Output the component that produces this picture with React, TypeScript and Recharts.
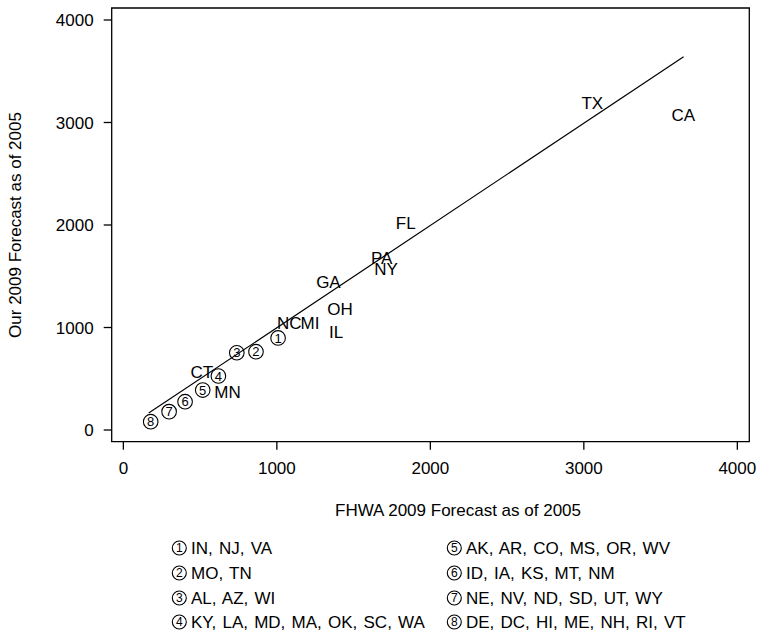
import React from 'react';
import { ScatterChart, Scatter, XAxis, YAxis, ReferenceArea } from 'recharts';

const xTicks = [0, 1000, 2000, 3000, 4000];
const yTicks = [0, 1000, 2000, 3000, 4000];

const stateLabels = ['TX', 'CA', 'FL', 'PA', 'NY', 'GA', 'OH', 'IL', 'NC', 'MI', 'CT', 'MN'];
const stateX = [3055, 3648, 1840, 1683, 1711, 1336, 1412, 1386, 1081, 1216, 511, 679];
const stateY = [3187, 3073, 2017, 1675, 1568, 1447, 1180, 953, 1047, 1047, 569, 374];

const groupNumbers = ['1', '2', '3', '4', '5', '6', '7', '8'];
const groupX = [1008, 864, 739, 619, 517, 402, 298, 178];
const groupY = [898, 764, 754, 527, 390, 276, 179, 81];

const groupStates = [
  'IN, NJ, VA',
  'MO, TN',
  'AL, AZ, WI',
  'KY, LA, MD, MA, OK, SC, WA',
  'AK, AR, CO, MS, OR, WV',
  'ID, IA, KS, MT, NM',
  'NE, NV, ND, SD, UT, WY',
  'DE, DC, HI, ME, NH, RI, VT',
];

const fitX = [165, 3650];
const fitY = [165, 3642];

const xTitle = 'FHWA 2009 Forecast as of 2005';
const yTitle = 'Our 2009 Forecast as of 2005';

const stateData = stateLabels.map((label, i) => ({ x: stateX[i], y: stateY[i], label }));
const groupData = groupNumbers.map((label, i) => ({ x: groupX[i], y: groupY[i], label }));
const fitData = fitX.map((x, i) => ({ x, y: fitY[i] }));

const FONT = '"Liberation Sans", Arial, Helvetica, sans-serif';

const LabelShape = (props: any) => {
  const { cx, cy, payload } = props;
  return (
    <text x={cx} y={cy} dy="0.35em" textAnchor="middle" fontSize={17} fontFamily={FONT} fill="#000">
      {payload.label}
    </text>
  );
};

const CircledDigit = ({ cx, cy, r, digit, size }: { cx: number; cy: number; r: number; digit: string; size: number }) => (
  <g>
    <circle cx={cx} cy={cy} r={r} fill="none" stroke="#000" strokeWidth={1.1} />
    <text x={cx} y={cy} dy="0.36em" textAnchor="middle" fontSize={size} fontFamily={FONT} fill="#000">
      {digit}
    </text>
  </g>
);

const CircleShape = (props: any) => {
  const { cx, cy, payload } = props;
  return <CircledDigit cx={cx} cy={cy} r={7.3} digit={payload.label} size={13} />;
};

const NoShape = () => <g />;

export default function App() {
  const legendCol = [172, 447];
  const legendRow = [548, 573, 598, 622];
  return (
    <div style={{ position: 'absolute', left: 0, top: 0, width: 759, height: 635, background: '#fff' }}>
      <ScatterChart
        width={759}
        height={635}
        margin={{ top: 8, right: 9.7, bottom: 163.3, left: 51.7 }}
      >
        <XAxis
          type="number"
          dataKey="x"
          domain={[-76, 4078]}
          ticks={xTicks}
          allowDataOverflow
          height={30}
          axisLine={false}
          tickSize={8}
          tickMargin={12}
          tickLine={{ stroke: '#000', strokeWidth: 1.3 }}
          tick={{ fill: '#000', fontSize: 17, fontFamily: FONT }}
          interval={0}
        />
        <YAxis
          type="number"
          dataKey="y"
          domain={[-114, 4117]}
          ticks={yTicks}
          allowDataOverflow
          width={60}
          axisLine={false}
          tickSize={8}
          tickMargin={10}
          tickLine={{ stroke: '#000', strokeWidth: 1.3 }}
          tick={{ fill: '#000', fontSize: 17, fontFamily: FONT }}
          interval={0}
        />
        <ReferenceArea x1={-76} x2={4078} y1={-114} y2={4117} fill="none" stroke="#000" strokeWidth={1.3} ifOverflow="visible" />
        <Scatter data={fitData} line={{ stroke: '#000', strokeWidth: 1.2 }} shape={NoShape} isAnimationActive={false} />
        <Scatter data={stateData} shape={LabelShape} isAnimationActive={false} />
        <Scatter data={groupData} shape={CircleShape} isAnimationActive={false} />
      </ScatterChart>
      <svg width={759} height={635} style={{ position: 'absolute', left: 0, top: 0, pointerEvents: 'none' }}>
        <text x={15} y={225} transform="rotate(-90 15 225)" textAnchor="middle" dy="0.35em" fontSize={17} fontFamily={FONT} fill="#000">
          {yTitle}
        </text>
        <text x={458} y={510} textAnchor="middle" dy="0.35em" fontSize={17} fontFamily={FONT} fill="#000">
          {xTitle}
        </text>
        {groupNumbers.map((g, i) => {
          const col = Math.floor(i / 4);
          const row = i % 4;
          const x0 = legendCol[col];
          const y0 = legendRow[row];
          return (
            <g key={g}>
              <CircledDigit cx={x0 + 7.3} cy={y0} r={7} digit={g} size={12} />
              <text x={x0 + 19} y={y0} dy="0.35em" fontSize={17} fontFamily={FONT} fill="#000" style={{ wordSpacing: '1.5px' }}>
                {groupStates[i]}
              </text>
            </g>
          );
        })}
      </svg>
    </div>
  );
}
